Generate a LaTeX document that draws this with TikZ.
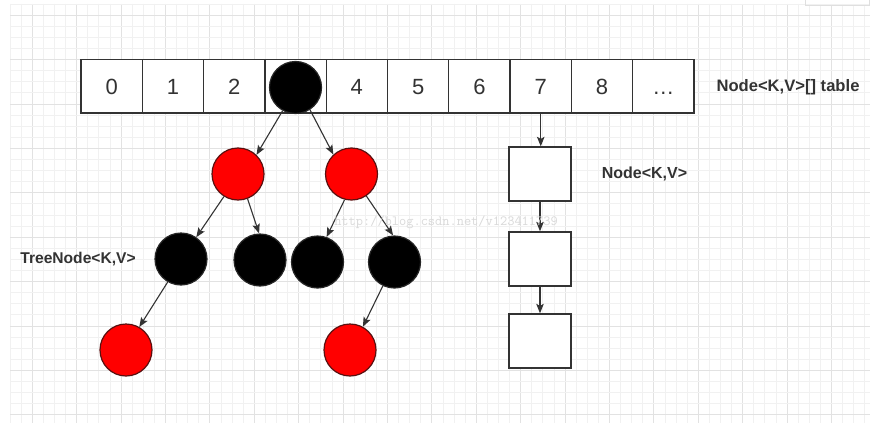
\documentclass[tikz,border=0pt]{standalone}
\usepackage{fontspec}
\setmainfont{Liberation Sans}
\usetikzlibrary{arrows.meta}
\definecolor{ink}{HTML}{333333}
\definecolor{gridminor}{HTML}{F1F1F1}
\definecolor{gridmajor}{HTML}{E2E2E2}
\definecolor{rbfred}{HTML}{FF0000}
\definecolor{redline}{HTML}{5A1010}
\begin{document}
\begin{tikzpicture}[x=1pt,y=-1pt,
 cell/.style={draw=ink, line width=1.3pt, fill=white, minimum width=61.3pt, minimum height=53.5pt, inner sep=0pt,
   font=\fontsize{22}{24}\selectfont, text=ink, text height=15.7pt, text depth=0pt},
 lbox/.style={draw=ink, line width=1.3pt, minimum width=62pt, minimum height=54pt, inner sep=0pt, fill=white},
 blk/.style={circle, draw=black!85, line width=1.2pt, fill=black, minimum size=52pt, inner sep=0pt},
 rd/.style={circle, draw=redline, line width=1.2pt, fill=rbfred, minimum size=52pt, inner sep=0pt},
 arr/.style={draw=ink, line width=1.1pt, -{Stealth[length=9.5pt,width=7.5pt,inset=2pt]}},
 lbl/.style={font=\bfseries\fontsize{16}{18}\selectfont, text=ink, inner sep=0pt}
]
\useasboundingbox (0,0) rectangle (877,436);
\fill[white] (0,0) rectangle (877,436);
% grid
\foreach \i in {0,...,77} {
  \pgfmathtruncatemacro\m{mod(\i,4)}
  \ifnum\m=2 \def\gc{gridmajor}\else\def\gc{gridminor}\fi
  \draw[\gc, line width=0.8pt] ({10+11.1*\i},4) -- ({10+11.1*\i},423);
}
\foreach \j in {0,...,37} {
  \pgfmathtruncatemacro\m{mod(\j,4)}
  \ifnum\m=1 \def\gc{gridmajor}\else\def\gc{gridminor}\fi
  \draw[\gc, line width=0.8pt] (10,{4+11.1*\j}) -- (870,{4+11.1*\j});
}
\draw[gray!25, line width=0.6pt] (805,-2) rectangle (869,5);
% table
\foreach \i/\t in {0/0,1/1,2/2,3/{},4/4,5/5,6/6,7/7,8/8} {
  \node[cell] (c\i) at ({111.65+61.3*\i},86.3) {\t};
}
\node[cell] (c9) at ({111.65+61.3*9},86.3) {\ldots};
\node[lbl, font=\bfseries\fontsize{16.6}{18}\selectfont] (tlabel) at (788,87) {Node<K,V>[] table};
% tree
\node[blk] (root) at (295.5,87.5) {};
\node[rd] (lr) at (238,174) {};
\node[rd] (rr) at (351.5,174) {};
\node[blk] (b1) at (181,259) {};
\node[blk] (b2) at (260,260) {};
\node[blk] (b3) at (317.5,262) {};
\node[blk] (b4) at (394.5,262) {};
\node[rd] (r1) at (126,350) {};
\node[rd] (r2) at (350,350) {};
\node[lbl, font=\bfseries\fontsize{15.6}{18}\selectfont] (tnlabel) at (78,259) {TreeNode<K,V>};
\draw[arr] (root.241) -- (lr.46);
\draw[arr] (root.-57) -- (rr.133);
\draw[arr] (lr.-122) -- (b1.55);
\draw[arr] (lr.-69) -- (b2.92);
\draw[arr] (rr.-105) -- (b3.70);
\draw[arr] (rr.-56) -- (b4.93);
\draw[arr] (b1.-120) -- (r1.60);
\draw[arr] (b4.-116) -- (r2.61);
% linked list
\node[lbox] (n1) at (540,174) {};
\node[lbox] (n2) at (540,259) {};
\node[lbox] (n3) at (540,341) {};
\node[lbl] (nlabel) at (644.5,174) {Node<K,V>};
\draw[arr] (c7.south) -- (c7.south |- n1.north);
\draw[arr] (n1) -- (n2);
\draw[arr] (n2) -- (n3);
% watermark
\node[text=black!15, font=\ttfamily\fontsize{14}{16}\selectfont, inner sep=0pt] (wm) at (446,222) {http://blog.csdn.net/v123411739};
\end{tikzpicture}
\end{document}
